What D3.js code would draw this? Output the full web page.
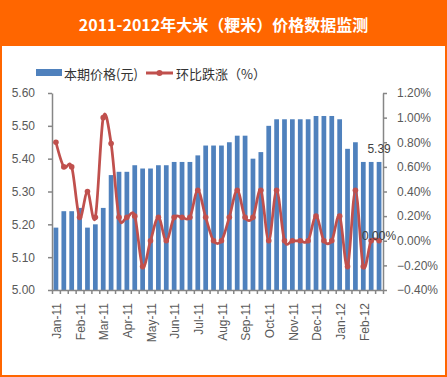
<!DOCTYPE html>
<html>
<head>
<meta charset="utf-8">
<script src="https://cdn.jsdelivr.net/npm/d3@7"></script>
<style>
  body { margin: 0; background: #fff; }
  svg { display: block; }
</style>
</head>
<body>
<div id="wrapper"></div>
<script>
// 10-day periods (上旬/中旬/下旬), Jan-11 .. Feb-12
const periods = [
    "2011-01上旬", "2011-01中旬", "2011-01下旬",
    "2011-02上旬", "2011-02中旬", "2011-02下旬",
    "2011-03上旬", "2011-03中旬", "2011-03下旬",
    "2011-04上旬", "2011-04中旬", "2011-04下旬",
    "2011-05上旬", "2011-05中旬", "2011-05下旬",
    "2011-06上旬", "2011-06中旬", "2011-06下旬",
    "2011-07上旬", "2011-07中旬", "2011-07下旬",
    "2011-08上旬", "2011-08中旬", "2011-08下旬",
    "2011-09上旬", "2011-09中旬", "2011-09下旬",
    "2011-10上旬", "2011-10中旬", "2011-10下旬",
    "2011-11上旬", "2011-11中旬", "2011-11下旬",
    "2011-12上旬", "2011-12中旬", "2011-12下旬",
    "2012-01上旬", "2012-01中旬", "2012-01下旬",
    "2012-02上旬", "2012-02中旬", "2012-02下旬"
]
const monthLabels = ["Jan-11", "Feb-11", "Mar-11", "Apr-11", "May-11", "Jun-11", "Jul-11",
    "Aug-11", "Sep-11", "Oct-11", "Nov-11", "Dec-11", "Jan-12", "Feb-12"]

// 本期价格(元)
const prices = [
    5.19, 5.24, 5.24, 5.25, 5.19, 5.20, 5.25, 5.35, 5.36, 5.36,
    5.38, 5.37, 5.37, 5.38, 5.38, 5.39, 5.39, 5.39, 5.41, 5.44,
    5.44, 5.44, 5.45, 5.47, 5.47, 5.40, 5.42, 5.50, 5.52, 5.52,
    5.52, 5.52, 5.52, 5.53, 5.53, 5.53, 5.52, 5.43, 5.45, 5.39,
    5.39, 5.39
]
// 环比跌涨（%）
const changes = [
    0.80, 0.60, 0.60, 0.19, 0.40, 0.19, 1.00, 0.79, 0.19, 0.19,
    0.20, -0.21, 0.00, 0.19, 0.00, 0.19, 0.19, 0.19, 0.41, 0.19,
    0.00, 0.00, 0.19, 0.41, 0.19, 0.19, 0.41, 0.00, 0.41, 0.00,
    0.00, 0.00, 0.00, 0.20, 0.00, 0.00, 0.20, -0.21, 0.41, -0.21,
    0.00, 0.00
]
const leftTicks = [5.00, 5.10, 5.20, 5.30, 5.40, 5.50, 5.60]
const rightTicks = [-0.4, -0.2, 0, 0.2, 0.4, 0.6, 0.8, 1.0, 1.2]

const width = 447
const height = 377
let dimensions = {
    width: width,
    height: height,
    margin: { top: 93, right: 64, bottom: 87, left: 52 },
}
dimensions.boundedWidth = dimensions.width - dimensions.margin.left - dimensions.margin.right
dimensions.boundedHeight = dimensions.height - dimensions.margin.top - dimensions.margin.bottom

const orange = "#FF6600"
const barColor = "#4F81BD"
const lineColor = "#C0504D"
const axisColor = "#868686"
const textColor = "#595959"

const svg = d3.select("#wrapper")
    .append("svg")
    .attr("width", width)
    .attr("height", height)

// frame + title banner
svg.append("rect")
    .attr("x", 1).attr("y", 1)
    .attr("width", width - 2).attr("height", height - 2)
    .attr("fill", "#fff")
    .attr("stroke", orange)
    .attr("stroke-width", 2)
svg.append("rect")
    .attr("x", 0).attr("y", 0)
    .attr("width", width).attr("height", 46)
    .attr("fill", orange)
svg.append("text")
    .attr("x", width / 2)
    .attr("y", 24)
    .attr("text-anchor", "middle")
    .attr("dominant-baseline", "central")
    .attr("fill", "#fff")
    .attr("font-family", "'Noto Sans CJK SC', sans-serif")
    .attr("font-weight", "bold")
    .attr("font-size", "16px")
    .text("2011-2012年大米（粳米）价格数据监测")

// legend
const legend = svg.append("g")
    .attr("font-family", "'Noto Sans CJK SC', sans-serif")
    .attr("font-size", "13px")
    .attr("fill", "#333")
legend.append("rect")
    .attr("x", 36).attr("y", 69)
    .attr("width", 26).attr("height", 7)
    .attr("fill", barColor)
legend.append("text")
    .attr("x", 64).attr("y", 73)
    .attr("dominant-baseline", "central")
    .text("本期价格(元)")
legend.append("line")
    .attr("x1", 146).attr("x2", 173)
    .attr("y1", 73).attr("y2", 73)
    .attr("stroke", lineColor)
    .attr("stroke-width", 3)
legend.append("circle")
    .attr("cx", 159.5).attr("cy", 73).attr("r", 3)
    .attr("fill", lineColor)
legend.append("text")
    .attr("x", 176).attr("y", 73)
    .attr("dominant-baseline", "central")
    .text("环比跌涨（%）")

const bounds = svg.append("g")
    .attr("transform", `translate(${dimensions.margin.left},${dimensions.margin.top})`)

// scales
const xScaler = d3.scaleBand()
    .domain(periods)
    .range([0, dimensions.boundedWidth])
    .paddingInner(0.4)
    .paddingOuter(0.2)
const xEdge = d3.scaleLinear()
    .domain([0, periods.length])
    .range([0, dimensions.boundedWidth])
const yLeft = d3.scaleLinear()
    .domain([5.0, 5.6])
    .range([dimensions.boundedHeight, 0])
const yRight = d3.scaleLinear()
    .domain([-0.4, 1.2])
    .range([dimensions.boundedHeight, 0])
const xCenter = d => xScaler(d) + xScaler.bandwidth() / 2

// bars
bounds.append("g")
    .selectAll("rect")
    .data(prices)
    .enter()
    .append("rect")
    .attr("x", (d, i) => xScaler(periods[i]))
    .attr("y", d => yLeft(d))
    .attr("width", xScaler.bandwidth())
    .attr("height", d => dimensions.boundedHeight - yLeft(d))
    .attr("fill", barColor)

// axes
function styleAxis(g) {
    g.selectAll(".domain").attr("stroke", axisColor).attr("stroke-width", 1.5)
    g.selectAll(".tick line").attr("stroke", axisColor).attr("stroke-width", 1.5)
    g.selectAll(".tick text")
        .attr("fill", textColor)
        .attr("font-family", "'Liberation Sans', Arial, sans-serif")
        .attr("font-size", "12px")
}

const yAxisLeft = bounds.append("g")
    .call(d3.axisLeft(yLeft)
        .tickValues(leftTicks)
        .tickFormat(d3.format(".2f"))
        .tickSize(4)
        .tickSizeOuter(0)
        .tickPadding(13))
    .call(styleAxis)

const yAxisRight = bounds.append("g")
    .attr("transform", `translate(${dimensions.boundedWidth},0)`)
    .call(d3.axisRight(yRight)
        .tickValues(rightTicks)
        .tickFormat(d => d3.format(".2%")(d / 100))
        .tickSize(4)
        .tickSizeOuter(0)
        .tickPadding(10))
    .call(styleAxis)

const xAxis = bounds.append("g")
    .attr("transform", `translate(0,${dimensions.boundedHeight})`)
    .call(d3.axisBottom(xEdge)
        .tickValues(d3.range(periods.length + 1))
        .tickFormat("")
        .tickSize(4)
        .tickSizeOuter(0))
    .call(styleAxis)

// month labels every third period
bounds.append("g")
    .selectAll("text")
    .data(monthLabels)
    .enter()
    .append("text")
    .attr("transform", (d, i) =>
        `translate(${xCenter(periods[i * 3]) + 1},${dimensions.boundedHeight + 13}) rotate(-90)`)
    .attr("text-anchor", "end")
    .attr("dy", "0.35em")
    .attr("fill", textColor)
    .attr("font-family", "'Liberation Sans', Arial, sans-serif")
    .attr("font-size", "12px")
    .text(d => d)

// line
const lineGen = d3.line()
    .x((d, i) => xCenter(periods[i]))
    .y(d => yRight(d))
    .curve(d3.curveCatmullRom.alpha(0))

bounds.append("path")
    .datum(changes)
    .attr("d", lineGen)
    .attr("fill", "none")
    .attr("stroke", lineColor)
    .attr("stroke-width", 2.75)

bounds.append("g")
    .selectAll("circle")
    .data(changes)
    .enter()
    .append("circle")
    .attr("cx", (d, i) => xCenter(periods[i]))
    .attr("cy", d => yRight(d))
    .attr("r", 2.8)
    .attr("fill", lineColor)

// data labels on the last period
const last = periods.length - 1
bounds.append("text")
    .attr("x", xCenter(periods[last]))
    .attr("y", yLeft(prices[last]) - 9)
    .attr("text-anchor", "middle")
    .attr("fill", "#404040")
    .attr("font-family", "'Liberation Sans', Arial, sans-serif")
    .attr("font-size", "12px")
    .text(d3.format(".2f")(prices[last]))
bounds.append("text")
    .attr("x", xCenter(periods[last]))
    .attr("y", yRight(changes[last]) - 1)
    .attr("text-anchor", "middle")
    .attr("fill", "#404040")
    .attr("font-family", "'Liberation Sans', Arial, sans-serif")
    .attr("font-size", "12px")
    .text(d3.format(".2%")(changes[last] / 100))
</script>
</body>
</html>
